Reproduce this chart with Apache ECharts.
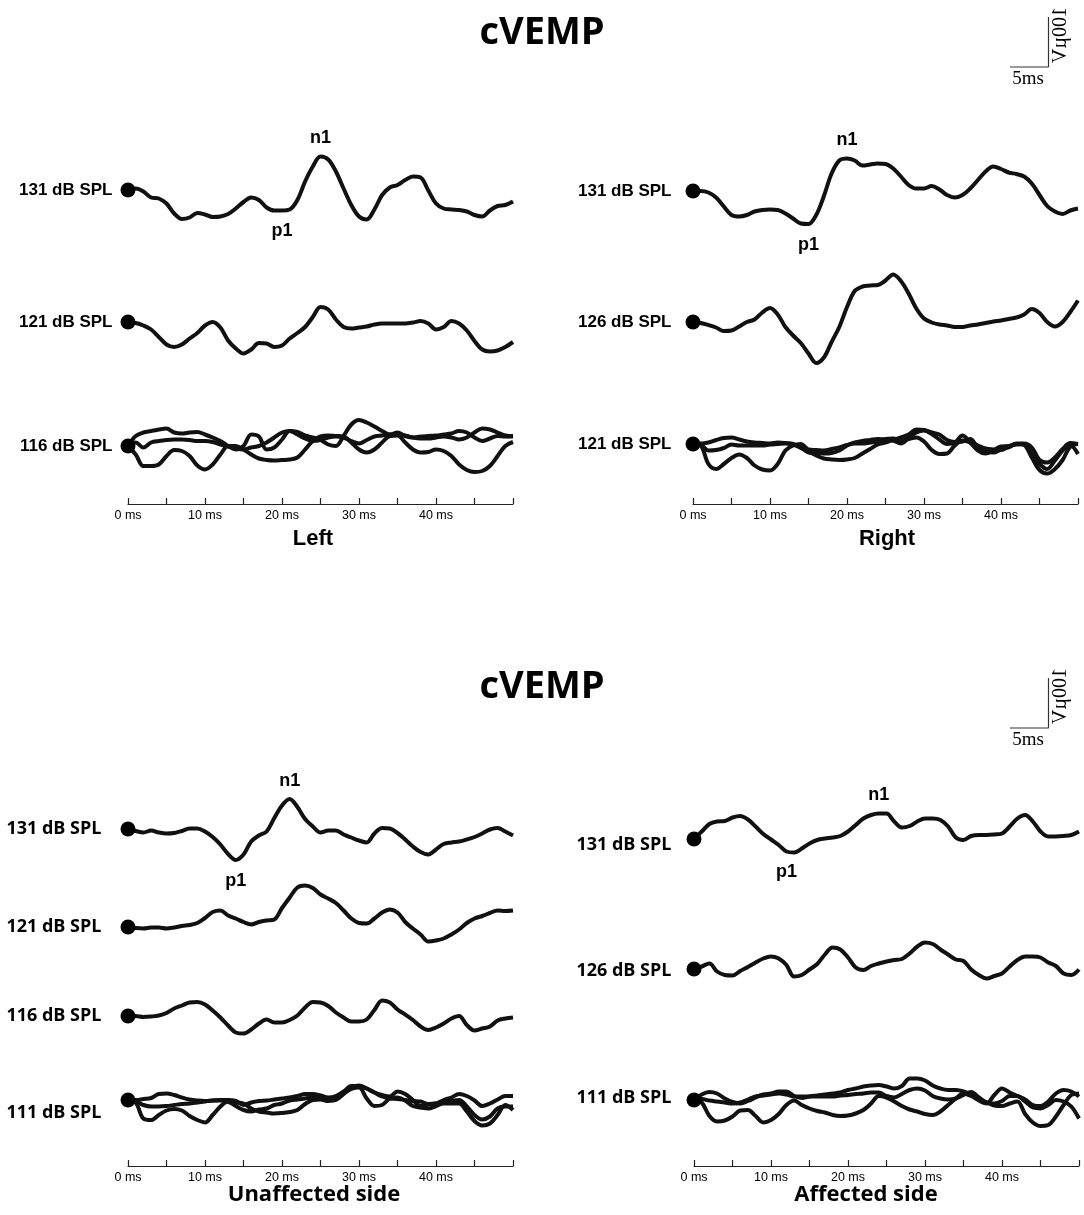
<!DOCTYPE html>
<html>
<head>
<meta charset="utf-8">
<title>cVEMP</title>
<script src="https://cdn.jsdelivr.net/npm/echarts@6/dist/echarts.min.js"></script>
<style>
  html, body { margin: 0; padding: 0; background: #fff; }
  #chart { width: 1084px; height: 1215px; }
</style>
</head>
<body>
<div id="chart"></div>
<script>
// sample times (ms)
const MS = [0,1,2,3,4,5,6,7,8,9,10,11,12,13,14,15,16,17,18,19,20,21,22,23,24,25,
            26,27,28,29,30,31,32,33,34,35,36,37,38,39,40,41,42,43,44,45,46,47,48,49,50]
const TICK_MS = [0, 10, 20, 30, 40]

// amplitudes in µV, positive = downward (p1 convention)
const LEFT_131 = [0,-3,3,15,17,27,47,58,55,46,49,54,53,48,37,24,15,20,35,41,41,39,20,-17,-47,-67,-61,-37,-3,30,53,59,39,10,-5,-10,-20,-27,-25,1,27,37,39,40,43,50,53,41,32,30,23]
const LEFT_121 = [0,2,7,15,30,45,50,45,33,22,7,0,11,37,53,63,55,42,43,50,47,33,22,10,-10,-30,-25,-5,10,13,11,9,5,3,3,3,3,1,-2,3,15,10,-2,3,17,38,55,59,57,50,40]
const LEFT_116_A = [0,-20,-27,-30,-33,-35,-27,-25,-27,-28,-23,-17,-10,0,7,0,-23,-19,7,3,-13,-30,-28,-21,-17,-12,-3,0,-20,-43,-52,-47,-39,-30,-23,-27,-20,-17,-19,-20,-21,-23,-25,-30,-27,-17,-10,-15,-20,-19,-20]
const LEFT_116_B = [0,-7,3,-7,-10,-12,-13,-13,-12,-10,-10,-8,-3,1,5,7,3,0,-7,-17,-27,-30,-23,-15,-10,-12,-17,-19,-17,-10,-5,-12,-19,-21,-23,-24,-21,-17,-15,-15,-17,-19,-17,-13,-17,-27,-35,-33,-27,-21,-19]
const LEFT_116_C = [0,17,40,40,37,20,8,10,20,39,47,37,17,0,0,7,17,25,28,29,28,27,23,7,-10,-19,-21,-20,-19,-7,7,13,7,-7,-20,-21,-7,7,13,12,7,10,20,37,48,52,50,40,20,0,-8]

const RIGHT_131 = [0,0,3,13,31,48,51,48,41,38,37,38,45,55,65,66,48,10,-35,-61,-65,-61,-51,-53,-55,-54,-45,-29,-12,-5,-5,-10,-3,8,13,8,-5,-22,-39,-49,-44,-37,-34,-29,-15,8,30,41,46,39,35]
const RIGHT_126 = [0,2,6,11,18,17,9,0,-5,-19,-28,-15,10,27,42,63,82,71,40,10,-30,-62,-71,-73,-74,-83,-95,-82,-57,-27,-7,1,5,7,10,10,7,5,2,-1,-3,-6,-9,-15,-26,-18,0,9,0,-20,-43]
const RIGHT_121_A = [0,-1,-3,-8,-12,-13,-9,-5,-3,-2,-1,-3,-2,0,8,15,23,29,31,32,31,28,19,10,1,-3,-8,-13,-19,-29,-28,-23,-19,-8,-4,-5,-10,7,15,17,11,7,-1,-1,7,32,37,27,10,-2,0]
const RIGHT_121_B = [0,1,13,12,8,1,3,3,3,3,1,0,-1,1,7,17,18,19,18,13,3,-3,-6,-8,-10,-9,-7,-1,-12,-23,-27,-20,-9,0,-3,-17,-3,13,19,13,5,4,1,0,20,40,50,33,13,3,20]
const RIGHT_121_C = [0,3,40,50,40,28,21,28,43,51,53,40,13,3,0,11,12,13,10,7,2,-1,-1,-3,-5,-10,-11,-7,-10,-13,-5,12,20,19,3,-7,-3,3,9,11,12,5,0,2,27,52,59,50,32,5,0]

const UNAFF_131 = [0,4,7,3,7,9,8,4,-1,-1,5,16,31,50,62,51,25,13,5,-22,-47,-60,-44,-20,-5,7,3,3,11,17,23,27,9,-2,-1,8,21,35,46,51,41,30,27,25,21,16,9,1,-2,5,13]
const UNAFF_121 = [0,2,3,1,1,3,1,-2,-4,-8,-18,-30,-33,-23,-17,-10,-5,-10,-13,-15,-38,-59,-79,-83,-78,-65,-57,-48,-33,-17,-8,-7,-17,-29,-35,-29,-10,3,15,29,27,23,15,5,-8,-17,-22,-28,-33,-32,-33]
const UNAFF_116 = [0,0,2,1,-1,-6,-15,-21,-27,-28,-23,-11,3,19,33,35,27,15,7,13,13,8,-1,-17,-28,-27,-20,-7,3,11,11,7,-12,-31,-27,-13,-3,8,21,28,23,15,5,0,18,29,25,21,9,5,3]
const UNAFF_111_A = [0,0,-2,-4,-12,-13,-10,-5,-1,1,2,1,0,0,2,10,5,2,1,-1,-3,-5,-8,-12,-12,-9,-5,-8,-17,-25,-29,-23,-15,-10,-7,-17,-12,0,12,9,7,0,-5,-12,-8,1,12,7,-1,-8,-8]
const UNAFF_111_B = [0,3,10,13,13,12,10,8,7,5,3,1,1,3,12,20,23,19,17,10,7,1,-1,-3,-5,-5,-1,-5,-16,-28,-28,-23,-15,-7,-3,-2,0,2,3,8,7,4,2,0,13,30,39,33,17,13,13]
const UNAFF_111_C = [0,5,37,40,30,21,18,21,32,40,45,30,13,3,5,7,17,23,25,27,26,24,20,8,0,-1,2,0,-12,-22,-25,-3,12,10,-3,-5,1,12,15,17,12,7,7,7,23,42,51,47,30,10,20]

const AFF_131 = [0,-15,-30,-35,-36,-43,-46,-39,-25,-10,1,12,25,27,19,9,2,-1,-3,-6,-15,-28,-41,-48,-51,-51,-35,-23,-26,-35,-41,-41,-38,-25,-3,2,-6,-8,-8,-9,-11,-25,-41,-48,-35,-15,-5,-5,-6,-8,-15]
const AFF_126 = [0,-5,-11,5,12,13,4,-4,-13,-21,-25,-21,-8,15,12,1,-10,-29,-43,-39,-23,-3,2,-6,-11,-15,-18,-20,-31,-45,-53,-50,-39,-29,-19,-16,1,12,19,14,9,-5,-18,-25,-25,-23,-13,-6,9,12,1]
const AFF_111_A = [0,-11,-16,-13,-3,4,7,2,-5,-11,-13,-17,-17,-8,-4,-7,-9,-11,-13,-15,-20,-23,-27,-29,-30,-27,-23,-28,-43,-43,-39,-29,-23,-20,-20,-17,-10,1,7,-10,-23,-15,-8,-1,10,12,3,-13,-20,-17,-7]
const AFF_111_B = [0,-2,1,3,5,7,5,-1,-7,-9,-11,-13,-11,-7,-7,-7,-7,-7,-7,-9,-10,-12,-13,-15,-15,-8,-5,-12,-20,-23,-19,-8,-3,-1,-3,-10,-16,-5,5,7,2,-8,-8,3,15,17,10,0,3,13,37]
const AFF_111_C = [0,5,32,43,41,33,21,20,32,45,40,28,10,1,10,17,22,25,30,32,31,27,20,7,-8,-5,3,12,19,23,28,30,23,10,-3,-13,-8,0,5,11,12,7,3,28,45,52,50,33,10,-10,-13]

// where the n1 / p1 labels sit (ms)
const PEAKS_LEFT = { n1: 25, p1: 20 }
const PEAKS_RIGHT = { n1: 20, p1: 15 }
const PEAKS_UNAFF = { n1: 21, p1: 14 }
const PEAKS_AFF = { n1: 24, p1: 12 }

// calibration bar
const SCALE_MS = 5
const SCALE_UV = 100

const INK = '#000'
const SANS = '"Liberation Sans", Arial, sans-serif'
const OPEN = '"Open Sans", sans-serif'
const SERIF = '"Liberation Serif", "Times New Roman", serif'

const PX_PER_MS = 7.7
const PX_PER_UV = 0.5
const SPAN_MS = 50
const ROW_UV = 100

const panels = [
    { left: 128, axisY: 504, name: 'Left', nameX: 313, nameY: 528, font: SANS, labelSize: 17, labelGap: 8,
      rows: [
          { label: '131 dB SPL', y: 190, traces: [LEFT_131], peaks: PEAKS_LEFT },
          { label: '121 dB SPL', y: 322, traces: [LEFT_121] },
          { label: '116 dB SPL', y: 446, traces: [LEFT_116_A, LEFT_116_B, LEFT_116_C] }
      ] },
    { left: 693, axisY: 504, name: 'Right', nameX: 887, nameY: 528, font: SANS, labelSize: 17, labelGap: 14,
      rows: [
          { label: '131 dB SPL', y: 191, traces: [RIGHT_131], peaks: PEAKS_RIGHT },
          { label: '126 dB SPL', y: 322, traces: [RIGHT_126] },
          { label: '121 dB SPL', y: 444, traces: [RIGHT_121_A, RIGHT_121_B, RIGHT_121_C] }
      ] },
    { left: 128, axisY: 1166, name: 'Unaffected side', nameX: 314, nameY: 1184, font: OPEN, labelSize: 18, labelGap: 19,
      rows: [
          { label: '131 dB SPL', y: 829, traces: [UNAFF_131], peaks: PEAKS_UNAFF },
          { label: '121 dB SPL', y: 927, traces: [UNAFF_121] },
          { label: '116 dB SPL', y: 1016, traces: [UNAFF_116] },
          { label: '111 dB SPL', y: 1100, dy: 13, traces: [UNAFF_111_A, UNAFF_111_B, UNAFF_111_C] }
      ] },
    { left: 694, axisY: 1166, name: 'Affected side', nameX: 866, nameY: 1184, font: OPEN, labelSize: 18, labelGap: 15,
      rows: [
          { label: '131 dB SPL', y: 839, dy: 6, traces: [AFF_131], peaks: PEAKS_AFF },
          { label: '126 dB SPL', y: 969, dy: 2, traces: [AFF_126] },
          { label: '111 dB SPL', y: 1100, dy: -2, traces: [AFF_111_A, AFF_111_B, AFF_111_C] }
      ] }
]

const scaleBars = [{ left: 1010, top: 17 }, { left: 1010, top: 678 }]

const grids = []
const xAxes = []
const yAxes = []
const series = []
const graphics = []

function addGrid(grid, xAxis, yAxis) {
    const idx = grids.length
    grids.push(grid)
    xAxes.push({ gridIndex: idx, ...xAxis })
    yAxes.push({ gridIndex: idx, ...yAxis })
    return idx
}

const gridW = SPAN_MS * PX_PER_MS
const rowH = 2 * ROW_UV * PX_PER_UV

panels.forEach(p => {
    p.rows.forEach(r => {
        const gi = addGrid(
            { left: p.left, top: r.y - rowH / 2, width: gridW, height: rowH },
            { type: 'value', min: 0, max: SPAN_MS, show: false },
            { type: 'value', min: -ROW_UV, max: ROW_UV, inverse: true, show: false }
        )

        r.traces.forEach((tr, k) => {
            const s = {
                type: 'line',
                xAxisIndex: gi,
                yAxisIndex: gi,
                data: MS.map((t, i) => [t, tr[i]]),
                smooth: 0.35,
                symbol: 'none',
                clip: false,
                silent: true,
                lineStyle: { color: '#111', width: 4, opacity: 1 },
                z: 2
            }
            if (k === 0 && r.peaks) {
                s.markPoint = {
                    symbol: 'circle',
                    symbolSize: 1,
                    itemStyle: { color: 'rgba(0,0,0,0)' },
                    label: {
                        show: true,
                        position: 'inside',
                        color: INK,
                        fontFamily: SANS,
                        fontWeight: 'bold',
                        fontSize: 18
                    },
                    data: Object.entries(r.peaks).map(([name, t]) => ({
                        coord: [t, tr[MS.indexOf(t)]],
                        label: { formatter: name, offset: [0, name === 'n1' ? -18 : 21] }
                    }))
                }
            }
            series.push(s)
        })

        series.push({
            type: 'scatter',
            xAxisIndex: gi,
            yAxisIndex: gi,
            data: [[0, 0]],
            symbolSize: 15,
            silent: true,
            itemStyle: { color: INK, opacity: 1 },
            label: {
                show: true,
                position: 'left',
                distance: p.labelGap,
                offset: [0, r.dy || 0],
                formatter: r.label,
                color: INK,
                opacity: 1,
                fontFamily: p.font,
                fontWeight: 'bold',
                fontSize: p.labelSize
            },
            z: 3
        })
    })

    // time axis under the panel
    addGrid(
        { left: p.left, top: p.axisY - 10, width: gridW, height: 10 },
        {
            type: 'value', min: 0, max: SPAN_MS, interval: 5,
            axisLine: { show: true, onZero: false, lineStyle: { color: '#222', width: 1.2 } },
            axisTick: { show: true, inside: true, length: 6, lineStyle: { color: '#222', width: 1.2 } },
            axisLabel: {
                margin: 5,
                color: INK,
                fontFamily: SANS,
                fontSize: 12.5,
                showMinLabel: true,
                formatter: v => TICK_MS.includes(v) ? v + ' ms' : ''
            },
            splitLine: { show: false }
        },
        { type: 'value', min: 0, max: 1, show: false }
    )
})

scaleBars.forEach(b => {
    const gi = addGrid(
        { left: b.left, top: b.top, width: SCALE_MS * PX_PER_MS, height: SCALE_UV * PX_PER_UV },
        { type: 'value', min: 0, max: SCALE_MS, show: false },
        { type: 'value', min: 0, max: SCALE_UV, show: false }
    )
    series.push({
        type: 'line',
        xAxisIndex: gi,
        yAxisIndex: gi,
        data: [[SCALE_MS, SCALE_UV], [SCALE_MS, 0], [0, 0]],
        symbol: 'none',
        silent: true,
        clip: false,
        lineStyle: { color: '#333', width: 1.2 }
    })
    graphics.push({
        type: 'text',
        x: b.left + 18,
        y: b.top + 62,
        style: { text: SCALE_MS + 'ms', font: '19px ' + SERIF, fill: INK, align: 'center', verticalAlign: 'middle', textAlign: 'center', textVerticalAlign: 'middle' }
    })
    graphics.push({
        type: 'text',
        x: b.left + 51,
        y: b.top + 18,
        rotation: -Math.PI / 2,
        scaleY: -1,
        style: { text: SCALE_UV + 'µV', font: '20px ' + SERIF, fill: INK, align: 'center', verticalAlign: 'middle', textAlign: 'center', textVerticalAlign: 'middle' }
    })
})

const titleStyle = { color: INK, fontFamily: OPEN, fontWeight: 'bold', fontSize: 38 }
const titles = [
    { text: 'cVEMP', left: 'center', top: 9, textStyle: titleStyle },
    { text: 'cVEMP', left: 'center', top: 663, textStyle: titleStyle }
]
panels.forEach(p => {
    titles.push({
        text: p.name,
        left: p.nameX,
        top: p.nameY,
        textAlign: 'center',
        padding: 0,
        textStyle: { color: INK, fontFamily: p.font, fontWeight: 'bold', fontSize: 22 }
    })
})

const chart = echarts.init(document.getElementById('chart'), null, { renderer: 'canvas' })
chart.setOption({
    backgroundColor: '#fff',
    animation: false,
    title: titles,
    grid: grids,
    xAxis: xAxes,
    yAxis: yAxes,
    series: series,
    graphic: graphics
})
</script>
</body>
</html>
